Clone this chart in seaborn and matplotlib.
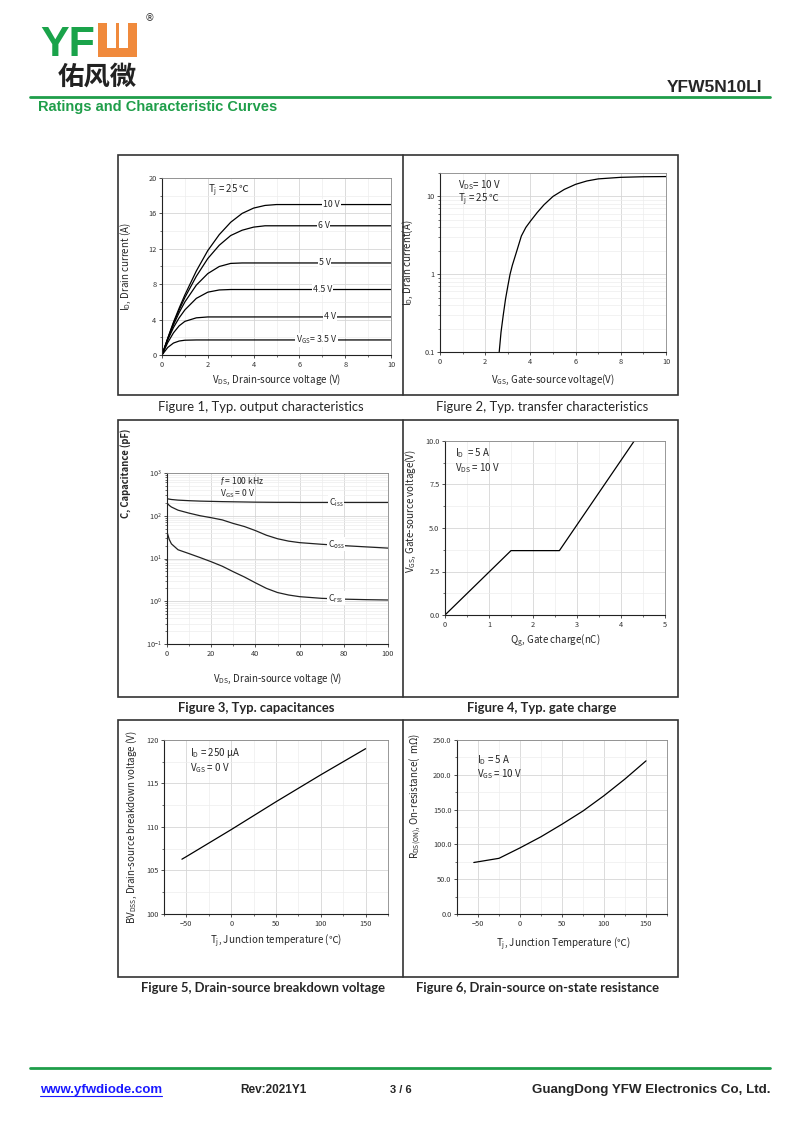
import matplotlib
matplotlib.use('Agg')
import matplotlib.pyplot as plt
import matplotlib.ticker as mticker
from matplotlib.patches import Rectangle
from matplotlib.lines import Line2D
from matplotlib.transforms import Affine2D
import seaborn as sns

# ---------------- data ----------------
# Figure 1, output characteristics
vds = [0, 0.25, 0.5, 0.75, 1.0, 1.5, 2.0, 2.5, 3.0, 3.5, 4.0, 4.5, 5.0, 6.0, 8.0, 10.0]
id_10v = [0, 1.9, 3.7, 5.3, 6.8, 9.5, 11.8, 13.6, 15.0, 16.0, 16.6, 16.9, 17.0, 17.0, 17.0, 17.0]
id_6v = [0, 1.85, 3.6, 5.1, 6.5, 8.9, 10.9, 12.4, 13.5, 14.1, 14.45, 14.6, 14.6, 14.6, 14.6, 14.6]
id_5v = [0, 1.8, 3.4, 4.8, 6.0, 7.9, 9.2, 10.0, 10.35, 10.4, 10.4, 10.4, 10.4, 10.4, 10.4, 10.4]
id_45v = [0, 1.7, 3.1, 4.2, 5.1, 6.4, 7.1, 7.35, 7.4, 7.4, 7.4, 7.4, 7.4, 7.4, 7.4, 7.4]
id_4v = [0, 1.4, 2.5, 3.3, 3.8, 4.2, 4.3, 4.3, 4.3, 4.3, 4.3, 4.3, 4.3, 4.3, 4.3, 4.3]
id_35v = [0, 0.85, 1.35, 1.58, 1.67, 1.7, 1.7, 1.7, 1.7, 1.7, 1.7, 1.7, 1.7, 1.7, 1.7, 1.7]
out_labels = ['10 V', '6 V', '5 V', '4.5 V', '4 V', 'V$_{GS}$= 3.5 V']
out_label_x = [7.4, 7.05, 7.1, 7.0, 7.35, 6.75]

# Figure 2, transfer characteristics
vgs_tr = [2.62, 2.7, 2.8, 2.9, 3.0, 3.1, 3.2, 3.4, 3.6, 3.8, 4.0, 4.3, 4.6, 5.0, 5.5, 6.0, 6.5, 7.0, 8.0, 9.0, 10.0]
id_tr = [0.1, 0.18, 0.3, 0.48, 0.7, 1.0, 1.3, 2.0, 3.1, 4.0, 4.8, 6.2, 7.8, 10.0, 12.3, 14.3, 15.8, 16.8, 17.6, 17.9, 18.0]

# Figure 3, capacitances
vds_c = [0, 1, 2, 5, 10, 15, 20, 25, 30, 35, 40, 45, 50, 55, 60, 70, 80, 90, 100]
ciss = [250, 245, 240, 232, 225, 220, 217, 214, 212, 210, 208, 207, 206, 206, 205, 205, 205, 205, 205]
coss = [200, 175, 160, 135, 115, 100, 90, 80, 66, 56, 45, 35, 29, 25.5, 23.5, 21.5, 20, 18.7, 17.5]
crss = [42, 28, 22, 16, 13, 10.5, 8.4, 6.6, 4.9, 3.7, 2.7, 2.0, 1.6, 1.4, 1.28, 1.17, 1.12, 1.09, 1.07]
cap_labels = ['C$_{iss}$', 'C$_{oss}$', 'C$_{rss}$']

# Figure 4, gate charge
qg = [0, 1.5, 2.6, 4.3]
vgs_q = [0, 3.7, 3.7, 10.0]

# Figure 5, breakdown voltage
tj5 = [-55, -50, 0, 50, 100, 150]
bv = [106.3, 106.6, 109.7, 112.9, 116.0, 119.0]

# Figure 6, on-resistance
tj6 = [-55, -50, -25, 0, 25, 50, 75, 100, 125, 150]
rds = [74, 75, 80, 95, 111, 129, 148, 170, 194, 220]

captions = ['Figure 1, Typ. output characteristics', 'Figure 2, Typ. transfer characteristics',
            'Figure 3, Typ. capacitances', 'Figure 4, Typ. gate charge',
            'Figure 5, Drain-source breakdown voltage', 'Figure 6, Drain-source on-state resistance']

# ---------------- style ----------------
sns.set_style('ticks')
plt.rcParams['font.family'] = ['Noto Sans CJK SC', 'DejaVu Sans']
plt.rcParams['mathtext.fontset'] = 'custom'
plt.rcParams['mathtext.rm'] = 'Noto Sans CJK SC'
plt.rcParams['mathtext.it'] = 'Lato:italic'
plt.rcParams['mathtext.bf'] = 'Noto Sans CJK SC:bold'
plt.rcParams['mathtext.default'] = 'regular'

W, H = 800, 1130
GREEN = '#1f9e4a'
fig = plt.figure(figsize=(W / 100, H / 100), dpi=100)
pix = Affine2D().scale(1 / W, -1 / H).translate(0, 1) + fig.transFigure


def rect(x0, y0, x1, y1):
    return [x0 / W, 1 - y1 / H, (x1 - x0) / W, (y1 - y0) / H]


def style(ax, xmaj, xmin, ymaj=None, ymin=None):
    ax.xaxis.set_major_locator(mticker.MultipleLocator(xmaj))
    ax.xaxis.set_minor_locator(mticker.MultipleLocator(xmin))
    if ymaj is not None:
        ax.yaxis.set_major_locator(mticker.MultipleLocator(ymaj))
        ax.yaxis.set_minor_locator(mticker.MultipleLocator(ymin))
    ax.grid(True, which='major', color='#d6d6d6', lw=0.6)
    ax.grid(True, which='minor', color='#ededed', lw=0.5)
    ax.set_axisbelow(True)
    ax.tick_params(which='major', labelsize=5.3, length=2.5, width=0.6, pad=1.5, colors='#333')
    ax.tick_params(which='minor', length=1.5, width=0.5, colors='#333')
    for s in ['left', 'bottom']:
        ax.spines[s].set_linewidth(0.8)
        ax.spines[s].set_color('#222')
    for s in ['top', 'right']:
        ax.spines[s].set_linewidth(0.6)
        ax.spines[s].set_color('#888')


def note(ax, x, y, s, size=7):
    ax.text(x, y, s, transform=ax.transAxes, fontsize=size, ha='left', va='center')


LBL = dict(fontsize=7)
BOX = dict(fc='white', ec='none', pad=0.6)

# ---------------- Figure 1 ----------------
ax1 = fig.add_axes(rect(162, 178, 391, 355))
curves = [id_10v, id_6v, id_5v, id_45v, id_4v, id_35v]
for ys in curves:
    sns.lineplot(x=vds, y=ys, ax=ax1, color='black', lw=0.9)
for ys, lab, lx in zip(curves, out_labels, out_label_x):
    ax1.text(lx, ys[-1], lab, fontsize=6.3, ha='center', va='center', bbox=BOX)
ax1.set_xlim(0, 10)
ax1.set_ylim(0, 20)
style(ax1, 2, 1, 4, 2)
ax1.set_xlabel('V$_{DS}$, Drain-source voltage (V)', **LBL)
ax1.set_ylabel('I$_D$, Drain current (A)', **LBL)
ax1.xaxis.set_label_coords(0.5, -18 / 177)
ax1.yaxis.set_label_coords(-29 / 229, 0.5)
ax1.text(2.0, 18.5, 'T$_j$ = 25 ℃', fontsize=7, ha='left', va='center')

# ---------------- Figure 2 ----------------
ax2 = fig.add_axes(rect(440, 173, 666, 352))
sns.lineplot(x=vgs_tr, y=id_tr, ax=ax2, color='black', lw=0.9)
ax2.set_yscale('log')
ax2.set_xlim(0, 10)
ax2.set_ylim(0.1, 20)
style(ax2, 2, 1)
ax2.yaxis.set_major_locator(mticker.FixedLocator([0.1, 1, 10]))
ax2.yaxis.set_major_formatter(mticker.FixedFormatter(['0.1', '1', '10']))
ax2.yaxis.set_minor_locator(mticker.LogLocator(base=10, subs=range(2, 10)))
ax2.yaxis.set_minor_formatter(mticker.NullFormatter())
ax2.set_xlabel('V$_{GS}$, Gate-source voltage(V)', **LBL)
ax2.set_ylabel('I$_D$, Drain current(A)', **LBL)
ax2.xaxis.set_label_coords(0.5, -21 / 179)
ax2.yaxis.set_label_coords(-25 / 226, 0.5)
note(ax2, 0.08, 0.93, 'V$_{DS}$= 10 V')
note(ax2, 0.08, 0.85, 'T$_j$ = 25 ℃')

# ---------------- Figure 3 ----------------
ax3 = fig.add_axes(rect(167, 473, 388, 644))
for ys in [ciss, coss, crss]:
    sns.lineplot(x=vds_c, y=ys, ax=ax3, color='#222', lw=0.9)
ax3.set_yscale('log')
ax3.set_xlim(0, 100)
ax3.set_ylim(0.1, 1000)
style(ax3, 20, 10)
ax3.yaxis.set_major_locator(mticker.LogLocator(base=10, numticks=10))
ax3.yaxis.set_major_formatter(mticker.LogFormatterSciNotation())
ax3.yaxis.set_minor_locator(mticker.LogLocator(base=10, subs=range(2, 10), numticks=20))
ax3.yaxis.set_minor_formatter(mticker.NullFormatter())
for ys, lab in zip([ciss, coss, crss], cap_labels):
    ax3.text(76.5, ys[-4], lab, fontsize=6.3, ha='center', va='center', bbox=BOX)
ax3.set_xlabel('V$_{DS}$, Drain-source voltage (V)', **LBL)
ax3.set_ylabel('C, Capacitance (pF)', fontsize=6.8, fontweight='bold')
ax3.xaxis.set_label_coords(0.5, -28 / 171)
ax3.yaxis.set_label_coords(-36 / 221, 1.0)
note(ax3, 0.24, 0.955, '$\\mathit{f}$ = 100 kHz', size=6.2)
note(ax3, 0.24, 0.88, 'V$_{GS}$ = 0 V', size=6.2)

# ---------------- Figure 4 ----------------
ax4 = fig.add_axes(rect(445, 441, 665, 615))
sns.lineplot(x=qg, y=vgs_q, ax=ax4, color='black', lw=0.9)
ax4.set_xlim(0, 5)
ax4.set_ylim(0, 10)
style(ax4, 1, 0.5, 2.5, 1.25)
ax4.yaxis.set_major_formatter(mticker.FormatStrFormatter('%.1f'))
ax4.set_xlabel('Q$_g$, Gate charge(nC)', **LBL)
ax4.set_ylabel('V$_{GS}$, Gate-source voltage(V)', **LBL)
ax4.xaxis.set_label_coords(0.5, -18 / 174)
ax4.yaxis.set_label_coords(-27 / 220, 0.6)
note(ax4, 0.045, 0.93, 'I$_D$  = 5 A')
note(ax4, 0.045, 0.845, 'V$_{DS}$ = 10 V')

# ---------------- Figure 5 ----------------
ax5 = fig.add_axes(rect(164, 740, 388, 914))
sns.lineplot(x=tj5, y=bv, ax=ax5, color='black', lw=0.9)
ax5.set_xlim(-75, 175)
ax5.set_ylim(100, 120)
style(ax5, 50, 25, 5, 2.5)
ax5.set_xlabel('T$_j$, Junction temperature (℃)', **LBL)
ax5.set_ylabel('BV$_{DSS}$, Drain-source breakdown voltage (V)', **LBL)
ax5.xaxis.set_label_coords(0.5, -19 / 174)
ax5.yaxis.set_label_coords(-25 / 224, 0.5)
note(ax5, 0.116, 0.925, 'I$_D$ = 250 μA')
note(ax5, 0.116, 0.84, 'V$_{GS}$ = 0 V')

# ---------------- Figure 6 ----------------
ax6 = fig.add_axes(rect(457, 740, 667, 914))
sns.lineplot(x=tj6, y=rds, ax=ax6, color='black', lw=0.9)
ax6.set_xlim(-75, 175)
ax6.set_ylim(0, 250)
style(ax6, 50, 25, 50, 25)
ax6.yaxis.set_major_formatter(mticker.FormatStrFormatter('%.1f'))
ax6.set_xlabel('T$_j$, Junction Temperature (℃)', **LBL)
ax6.set_ylabel('R$_{DS(ON)}$, On-resistance(  mΩ)', **LBL)
ax6.xaxis.set_label_coords(0.505, -22 / 174)
ax6.yaxis.set_label_coords(-34 / 210, 0.68)
note(ax6, 0.095, 0.885, 'I$_D$ = 5 A')
note(ax6, 0.095, 0.805, 'V$_{GS}$ = 10 V')

# ---------------- panel frames and captions ----------------
for top, bot in [(155, 395), (420, 697), (720, 977)]:
    fig.add_artist(Rectangle((118, top), 560, bot - top, transform=pix, fill=False, ec='#333', lw=1.2))
    fig.add_artist(Line2D([403, 403], [top, bot], transform=pix, color='#333', lw=1.2))

cap_pos = [(261, 407), (542, 407), (256, 708), (542, 708), (263, 988), (537, 988)]
for i, (txt, (cx, cy)) in enumerate(zip(captions, cap_pos)):
    fig.text(cx / W, 1 - cy / H, txt, ha='center', va='center', fontsize=9.4, family='Lato',
             fontweight='normal' if i < 2 else 'bold')

# ---------------- header ----------------
fig.text(40 / W, 1 - 56 / H, 'YF', ha='left', va='baseline', fontsize=31, fontweight='bold',
         color='#1aa34a', family='Liberation Sans')
fig.add_artist(Rectangle((98, 23), 39, 34, transform=pix, fc='#f08a3c', ec='none'))
fig.add_artist(Rectangle((107, 23), 9, 25, transform=pix, fc='white', ec='none'))
fig.add_artist(Rectangle((119, 23), 9, 25, transform=pix, fc='white', ec='none'))
fig.text(150 / W, 1 - 18 / H, '®', ha='center', va='center', fontsize=7, color='#333', family='DejaVu Sans')
fig.text(97 / W, 1 - 77 / H, '佑风微', ha='center', va='center', fontsize=19, fontweight='bold',
         family=['Noto Sans CJK SC', 'DejaVu Sans'], color='#222')
fig.text(762 / W, 1 - 92 / H, 'YFW5N10LI', ha='right', va='baseline', fontsize=12.5,
         fontweight='bold', family='Liberation Sans')
fig.add_artist(Line2D([30, 770], [97, 97], transform=pix, color=GREEN, lw=2))
fig.text(38 / W, 1 - 107 / H, 'Ratings and Characteristic Curves', ha='left', va='center',
         fontsize=10.5, fontweight='bold', color=GREEN, family='Liberation Sans')

# ---------------- footer ----------------
fig.add_artist(Line2D([30, 770], [1068, 1068], transform=pix, color=GREEN, lw=2))
ft = dict(va='center', fontweight='bold', family='Liberation Sans')
fig.text(40 / W, 1 - 1090 / H, 'www.yfwdiode.com', ha='left', color='#1a1aff', fontsize=9.5, **ft)
fig.add_artist(Line2D([40, 162], [1096, 1096], transform=pix, color='#1a1aff', lw=0.8))
fig.text(240 / W, 1 - 1090 / H, 'Rev:2021Y1', ha='left', fontsize=8.5, **ft)
fig.text(390 / W, 1 - 1090 / H, '3 / 6', ha='left', fontsize=8, **ft)
fig.text(770 / W, 1 - 1090 / H, 'GuangDong YFW Electronics Co, Ltd.', ha='right', fontsize=9.6, **ft)

fig.savefig('out.png', dpi=100, facecolor='white')
